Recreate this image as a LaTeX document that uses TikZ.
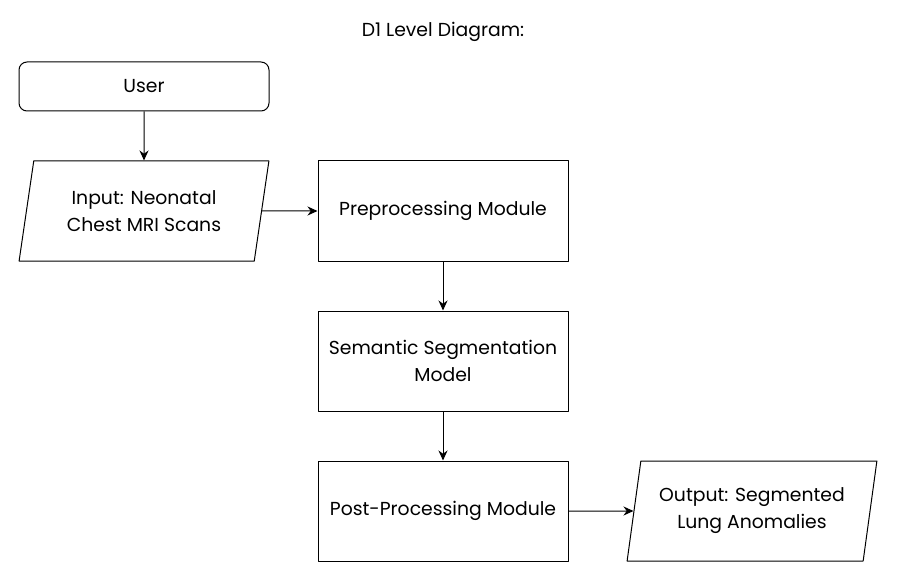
\documentclass[tikz,border=0pt]{standalone}
\usepackage{fontspec}
\setmainfont{Poppins}
\usetikzlibrary{shapes.geometric,arrows.meta}
\begin{document}
\begin{tikzpicture}[x=1pt, y=-1pt, line join=round, >={Stealth[length=10pt,width=9pt]}, font=\fontsize{18.8}{27}\selectfont]
	\tikzset{box/.style={draw, line width=1pt, minimum width=250pt, minimum height=100pt, align=center, inner sep=0pt},
		io/.style={box, trapezium, trapezium left angle=76, trapezium right angle=104, trapezium stretches=true},
		flow/.style={->, line width=1pt}}
	\useasboundingbox (0,0) rectangle (897,580);
	\node (title) at (443,32) {D1 Level Diagram:};
	\node[box, rounded corners=8pt, minimum height=49pt] (user) at (144,86.5) {User};
	\node[io] (input) at (144,211) {Input: Neonatal\\Chest MRI Scans};
	\node[box] (prep) at (443,211) {Preprocessing Module};
	\node[box] (seg) at (443,361) {Semantic Segmentation\\Model};
	\node[box] (post) at (443,511) {Post-Processing Module};
	\node[io] (output) at (752,511) {Output: Segmented\\Lung Anomalies};
	% connectors
	\draw[flow] (user)--(input);
	\draw[flow] (input)--(prep);
	\draw[flow] (prep)--(seg);
	\draw[flow] (seg)--(post);
	\draw[flow] (post)--(output);
\end{tikzpicture}
\end{document}
